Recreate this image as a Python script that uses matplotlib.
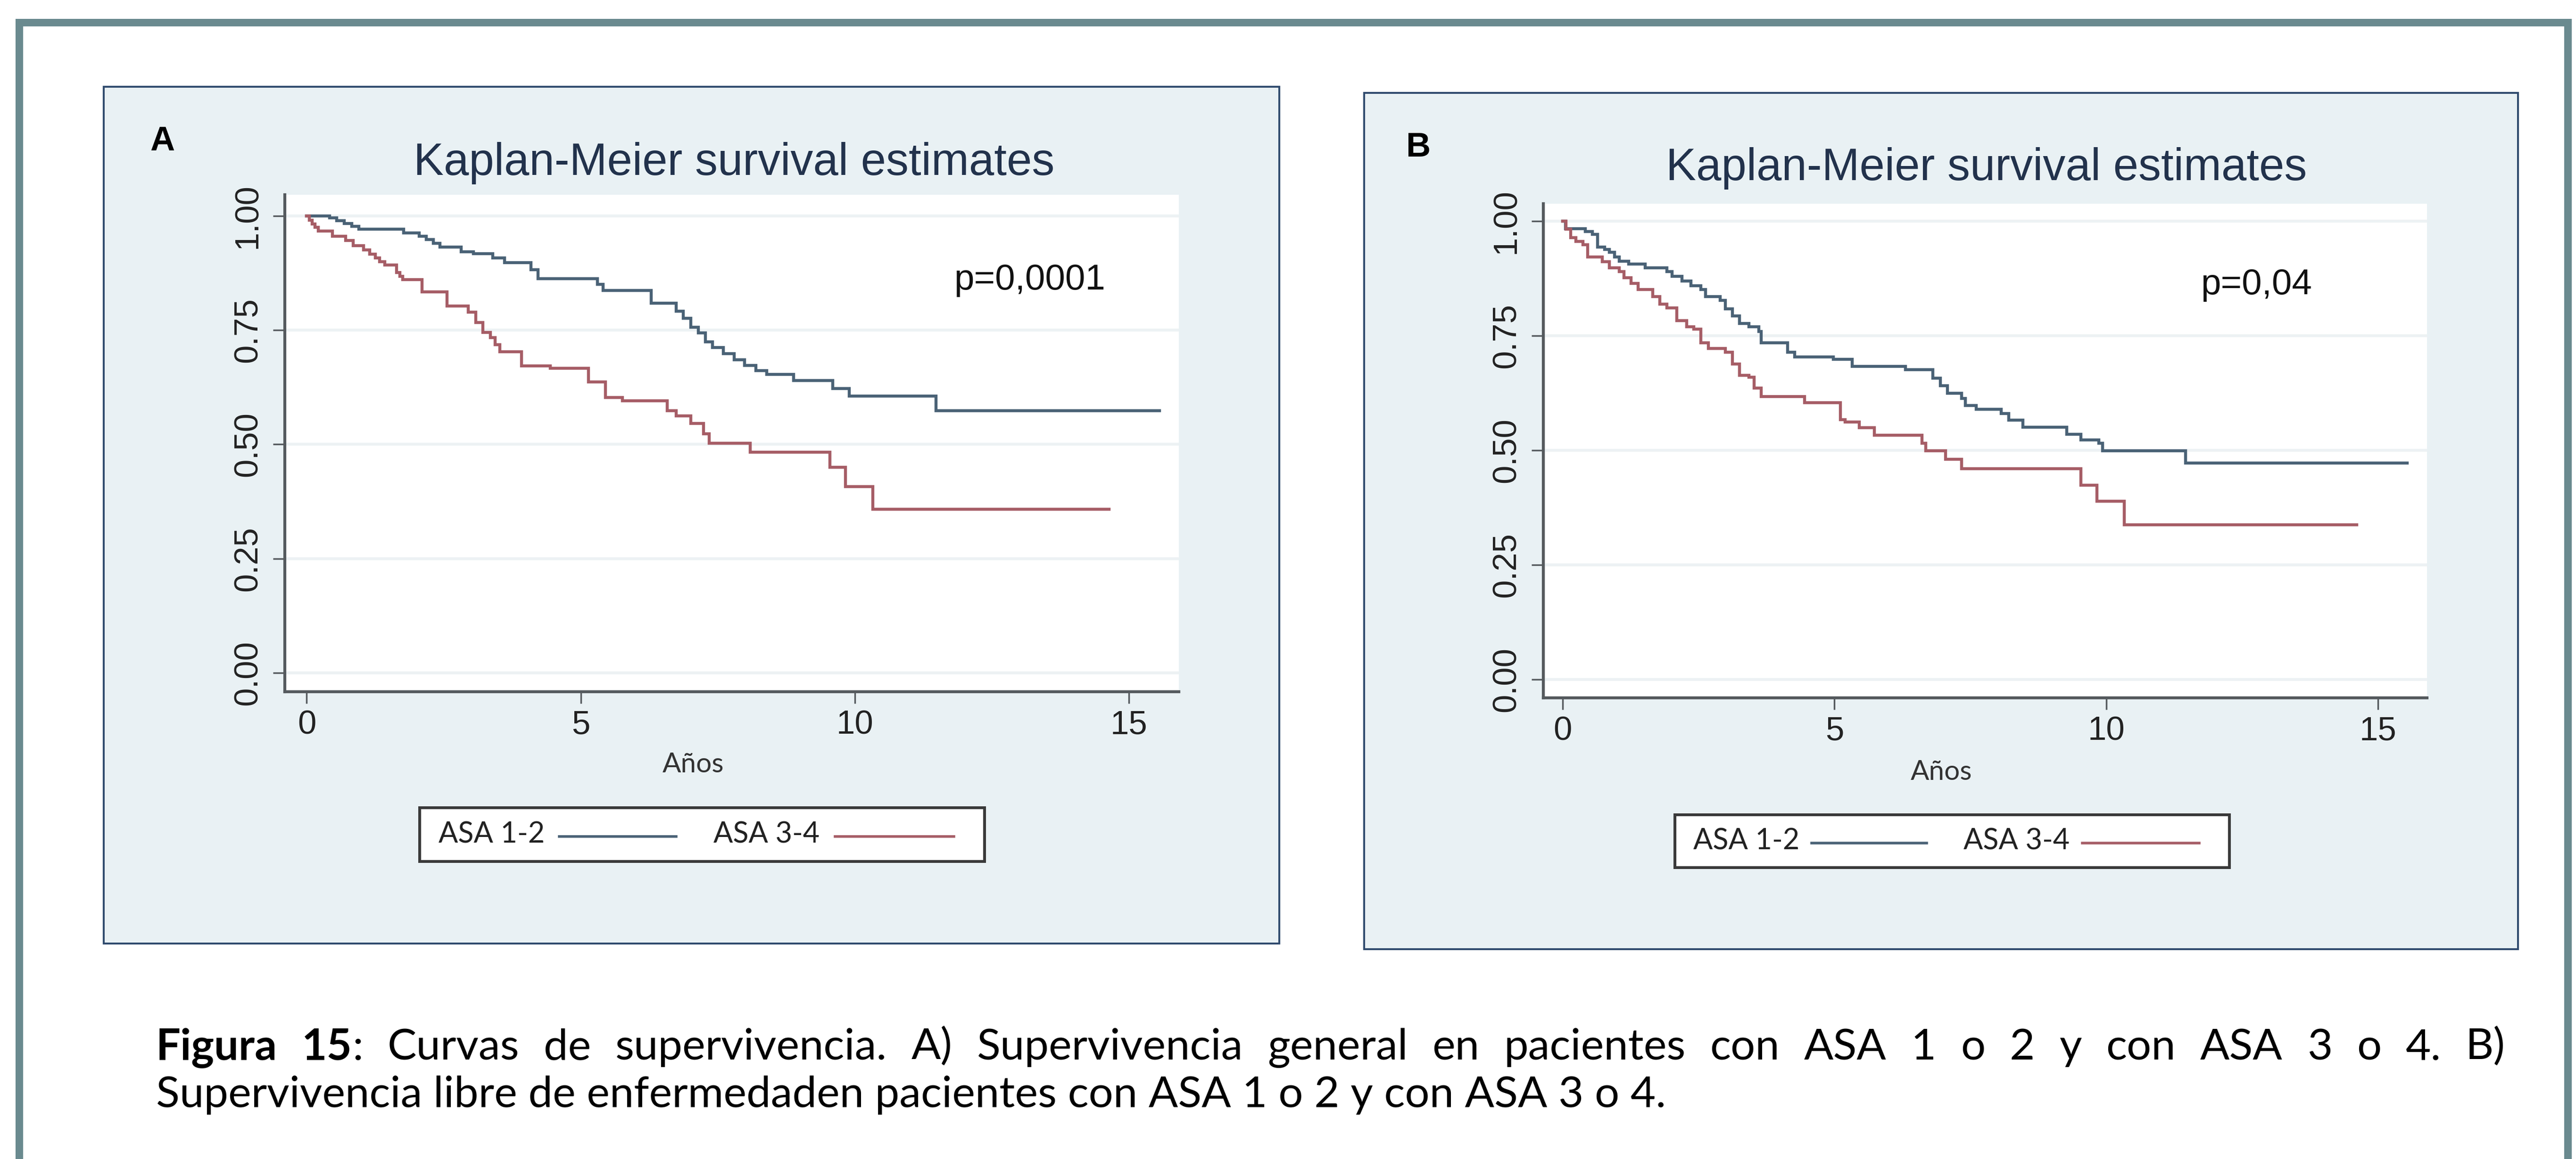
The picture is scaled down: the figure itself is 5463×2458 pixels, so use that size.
import numpy as np
import matplotlib
matplotlib.use("Agg")
import matplotlib.pyplot as plt
from matplotlib.patches import Rectangle
from matplotlib.lines import Line2D

# Kaplan-Meier step curves (time in years, survival)
# Panel A - supervivencia general
t_a_asa12 = [0, 0.42, 0.55, 0.68, 0.82, 0.95, 1.77, 2.05, 2.18, 2.31, 2.43, 2.82, 3.04, 3.39, 3.61,
             4.09, 4.22, 5.30, 5.41, 6.28, 6.74, 6.87, 7.01, 7.14, 7.27, 7.40, 7.60, 7.80, 7.99, 8.19,
             8.39, 8.88, 9.60, 9.90, 11.48, 15.56]
s_a_asa12 = [1.0, 0.995, 0.989, 0.983, 0.977, 0.971, 0.962, 0.955, 0.948, 0.940, 0.932, 0.921, 0.917, 0.908, 0.897,
             0.882, 0.862, 0.850, 0.837, 0.809, 0.791, 0.776, 0.756, 0.744, 0.724, 0.712, 0.698, 0.685, 0.673, 0.661,
             0.653, 0.640, 0.622, 0.606, 0.574, 0.574]
t_a_asa34 = [0, 0.05, 0.10, 0.15, 0.21, 0.47, 0.71, 0.85, 1.04, 1.15, 1.25, 1.33, 1.42, 1.64, 1.70,
             1.75, 2.10, 2.56, 2.95, 3.08, 3.21, 3.35, 3.44, 3.52, 3.92, 4.44, 5.14, 5.45, 5.76, 6.58,
             6.74, 7.01, 7.24, 7.34, 8.09, 9.54, 9.83, 10.33, 14.64]
s_a_asa34 = [1.0, 0.99, 0.982, 0.975, 0.967, 0.955, 0.946, 0.935, 0.925, 0.916, 0.908, 0.900, 0.892, 0.876, 0.868,
             0.860, 0.834, 0.803, 0.789, 0.767, 0.745, 0.734, 0.718, 0.703, 0.672, 0.666, 0.637, 0.603, 0.595, 0.574,
             0.562, 0.546, 0.523, 0.503, 0.483, 0.450, 0.408, 0.358, 0.358]

# Panel B - supervivencia libre de enfermedad
t_b_asa12 = [0, 0.05, 0.42, 0.55, 0.64, 0.77, 0.86, 0.95, 1.04, 1.21, 1.52, 1.92, 2.01, 2.19, 2.36,
             2.54, 2.63, 2.90, 2.99, 3.12, 3.25, 3.43, 3.61, 3.65, 4.14, 4.27, 4.98, 5.33, 6.31, 6.81,
             6.95, 7.08, 7.34, 7.41, 7.61, 8.07, 8.21, 8.47, 9.27, 9.53, 9.86, 9.93, 11.46, 15.54]
s_b_asa12 = [1.0, 0.983, 0.977, 0.971, 0.943, 0.938, 0.932, 0.922, 0.913, 0.906, 0.898, 0.890, 0.880, 0.869, 0.859,
             0.851, 0.835, 0.827, 0.809, 0.793, 0.777, 0.770, 0.759, 0.735, 0.714, 0.704, 0.699, 0.683, 0.676, 0.657,
             0.641, 0.625, 0.613, 0.598, 0.590, 0.580, 0.566, 0.550, 0.535, 0.523, 0.515, 0.499, 0.472, 0.472]
t_b_asa34 = [0, 0.06, 0.15, 0.24, 0.37, 0.46, 0.73, 0.86, 1.04, 1.13, 1.26, 1.39, 1.66, 1.79, 1.92,
             2.10, 2.28, 2.41, 2.54, 2.68, 2.99, 3.12, 3.25, 3.43, 3.52, 3.65, 4.45, 5.11, 5.20, 5.46,
             5.73, 6.61, 6.68, 7.04, 7.34, 9.53, 9.83, 10.33, 14.61]
s_b_asa34 = [1.0, 0.982, 0.964, 0.956, 0.948, 0.922, 0.911, 0.898, 0.890, 0.877, 0.864, 0.851, 0.835, 0.819, 0.811,
             0.783, 0.770, 0.764, 0.735, 0.722, 0.714, 0.688, 0.664, 0.659, 0.636, 0.617, 0.604, 0.567, 0.562, 0.549,
             0.533, 0.515, 0.499, 0.480, 0.460, 0.424, 0.389, 0.338, 0.338]

group_labels = ["ASA 1-2", "ASA 3-4"]
group_colors = ["#4a6276", "#a65d66"]
panel_letters = ["A", "B"]
p_values = ["p=0,0001", "p=0,04"]
p_pos = [(13.19, 0.859), (12.76, 0.861)]
x_ticks = [0, 5, 10, 15]
y_ticks = [0, 0.25, 0.5, 0.75, 1.0]
y_ticklabels = ["0.00", "0.25", "0.50", "0.75", "1.00"]
title = "Kaplan-Meier survival estimates"
xlabel = "Años"
caption_1 = [[("Figura", "bold")], [("15", "bold"), (":", "normal")]] + \
    [[(w, "normal")] for w in "Curvas de supervivencia. A) Supervivencia general en pacientes con ASA 1 o 2 y con ASA 3 o 4. B)".split()]
caption_2 = "Supervivencia libre de enfermedaden pacientes con ASA 1 o 2 y con ASA 3 o 4."

W, H = 5463, 2458
fig = plt.figure(figsize=(W / 100, H / 100), dpi=100)
fig.patch.set_facecolor("white")
R = fig.canvas.get_renderer()

def fx(x):
    return x / W

def fy(y):
    return 1 - y / H

def px2pt(p):
    return p * 0.72

ARIAL = "Liberation Sans"
CALIB = "Lato"

# outer frame (open at the bottom)
fig.add_artist(Rectangle((fx(41), fy(2600)), fx(5446) - fx(41), fy(48) - fy(2600), transform=fig.transFigure,
                         fill=False, edgecolor="#6a8a8f", lw=px2pt(16), zorder=-10))

panels = [
    dict(box=(220, 184, 2713, 2001), ax=(604, 413, 2500, 1467), xlim=(-0.40, 15.91), ylim=(-0.041, 1.046),
         title=(1557, 346), letter=(344, 300), xlab=(1470, 1622), leg=(890, 1713, 2088, 1827),
         data=[(t_a_asa12, s_a_asa12), (t_a_asa34, s_a_asa34)]),
    dict(box=(2893, 197, 5340, 2013), ax=(3273, 432, 5147, 1480), xlim=(-0.356, 15.90), ylim=(-0.040, 1.038),
         title=(4213, 357), letter=(3007, 313), xlab=(4117, 1637), leg=(3552, 1728, 4728, 1840),
         data=[(t_b_asa12, s_b_asa12), (t_b_asa34, s_b_asa34)]),
]

for i, p in enumerate(panels):
    x0, y0, x1, y1 = p["box"]
    fig.add_artist(Rectangle((fx(x0), fy(y1)), fx(x1) - fx(x0), fy(y0) - fy(y1), transform=fig.transFigure,
                             facecolor="#e9f1f4", edgecolor="#2f4a6d", lw=px2pt(4), zorder=-5))
    a0, b0, a1, b1 = p["ax"]
    ax = fig.add_axes([fx(a0), fy(b1), fx(a1) - fx(a0), fy(b0) - fy(b1)])
    ax.set_facecolor("white")
    for (t, s), c in zip(p["data"], group_colors):
        ax.step(t, s, where="post", color=c, lw=4.6, solid_joinstyle="miter")
    ax.set_xlim(*p["xlim"])
    ax.set_ylim(*p["ylim"])
    ax.set_xticks(x_ticks)
    ax.set_yticks(y_ticks)
    ax.set_yticklabels(y_ticklabels, rotation=90, va="center")
    for side in ["top", "right"]:
        ax.spines[side].set_visible(False)
    for side in ["left", "bottom"]:
        ax.spines[side].set_color("#555a5e")
        ax.spines[side].set_linewidth(4.5)
    ax.yaxis.grid(True, color="#edf2f4", lw=4.5)
    ax.set_axisbelow(True)
    ax.tick_params(axis="both", length=18, width=2.5, color="#555a5e", labelcolor="#222222", labelsize=51)
    ax.tick_params(axis="x", pad=10)
    ax.tick_params(axis="y", pad=14)
    for lab in ax.get_xticklabels() + ax.get_yticklabels():
        lab.set_fontfamily(ARIAL)
    ax.text(p_pos[i][0], p_pos[i][1], p_values[i], ha="center", va="center", fontsize=55,
            family=ARIAL, color="#111111")

    tt = fig.text(fx(p["title"][0]), fy(p["title"][1]), title, ha="center", va="center",
                  family=ARIAL, fontsize=60, color="#22324c")
    w = tt.get_window_extent(R).width
    tt.set_fontsize(60 * 1360 / w)
    fig.text(fx(p["letter"][0]), fy(p["letter"][1]), panel_letters[i], ha="center", va="center",
             family=ARIAL, fontweight="bold", fontsize=52, color="black")
    fig.text(fx(p["xlab"][0]), fy(p["xlab"][1]), xlabel, ha="center", va="center",
             family=CALIB, fontsize=42, color="#333333")

    # legend box: label first, then line sample
    l0, m0, l1, m1 = p["leg"]
    lw_ = l1 - l0
    fig.add_artist(Rectangle((fx(l0), fy(m1)), fx(l1) - fx(l0), fy(m0) - fy(m1), transform=fig.transFigure,
                             facecolor="white", edgecolor="#3a3a3a", lw=px2pt(6), zorder=2))
    ym = (m0 + m1) / 2
    offs = [(0.033, 0.247, 0.454), (0.520, 0.735, 0.946)]
    for (ot, ol0, ol1), lab, c in zip(offs, group_labels, group_colors):
        fig.text(fx(l0 + ot * lw_), fy(ym), lab, ha="left", va="center", family=CALIB,
                 fontsize=44, color="#222222", zorder=3)
        fig.add_artist(Line2D([fx(l0 + ol0 * lw_), fx(l0 + ol1 * lw_)], [fy(ym + 4), fy(ym + 4)],
                              transform=fig.transFigure, color=c, lw=4.0, zorder=3))

# caption: second line sets the font size, first line is justified
cap_left, cap_right = 331, 5313
t2 = fig.text(fx(cap_left), fy(2348), caption_2, ha="left", va="baseline", family=CALIB,
              fontsize=50, color="black")
w2 = t2.get_window_extent(R).width
cap_fs = 50 * 3198 / w2
t2.set_fontsize(cap_fs)

word_runs = []
total = 0
for word in caption_1:
    runs = []
    for txt, wt in word:
        tr = fig.text(0, 0, txt, family=CALIB, fontweight=wt, fontsize=cap_fs, ha="left", va="baseline")
        wr = tr.get_window_extent(R).width
        runs.append((tr, wr))
        total += wr
    word_runs.append(runs)
gap = (cap_right - cap_left - total) / (len(word_runs) - 1)
xc = cap_left
for runs in word_runs:
    for tr, wr in runs:
        tr.set_position((fx(xc), fy(2247)))
        xc += wr
    xc += gap

fig.savefig("out.png", dpi=100)
